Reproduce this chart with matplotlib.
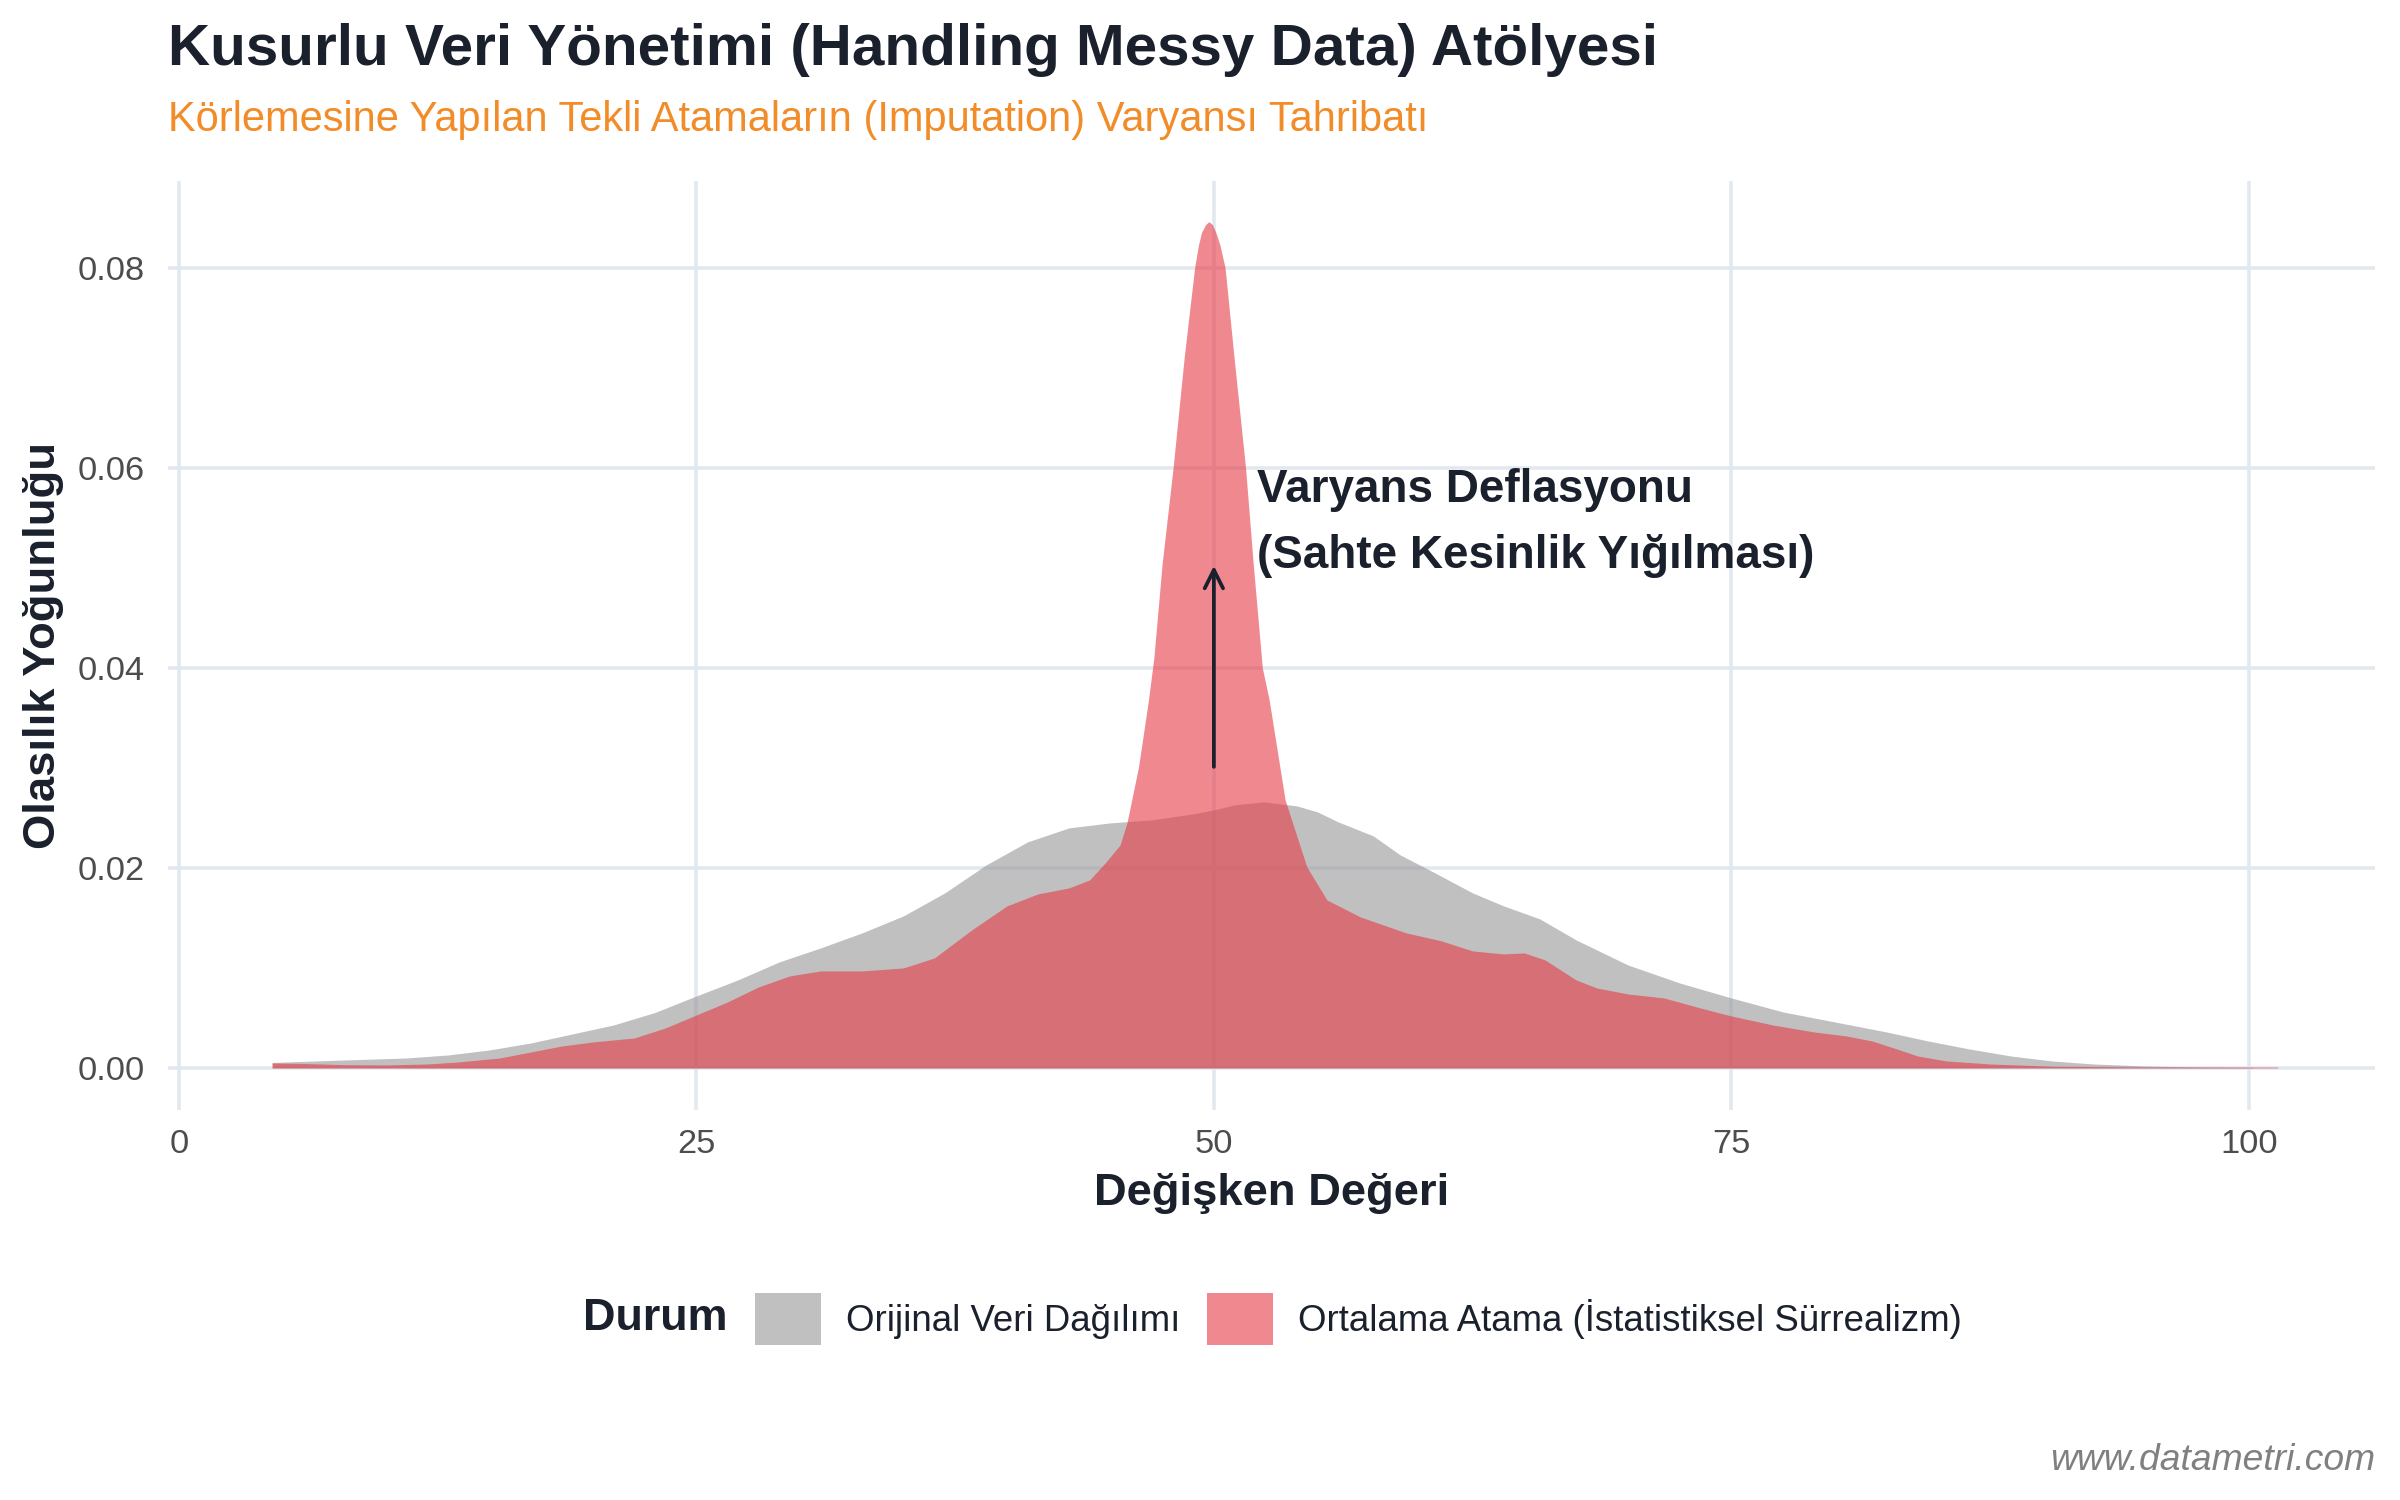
import numpy as np
import matplotlib
matplotlib.use('Agg')
import matplotlib.pyplot as plt
from matplotlib.patches import Patch

plt.rcParams['font.family'] = ['Liberation Sans', 'DejaVu Sans']

# --- data (x value, density) ---
orig_x = [4.5, 8, 11, 13, 15, 17, 19, 21, 23, 25, 27, 29, 31, 33, 35, 37, 39, 41, 43,
          45, 47, 49, 50, 51, 52.4, 54, 55, 56, 57.7, 59, 60.5, 62.5, 64, 65.75, 67.5,
          70, 72.5, 75, 77.5, 80.5, 82.5, 84.5, 86.5, 88.5, 90.5, 92.5, 95, 97.5, 100.2]
orig_d = [0.00055, 0.0008, 0.0010, 0.0013, 0.0018, 0.0025, 0.0034, 0.0043, 0.00555,
          0.0072, 0.0088, 0.0106, 0.0120, 0.0135, 0.0152, 0.0175, 0.0203, 0.0226, 0.0240,
          0.0245, 0.0248, 0.0254, 0.0258, 0.0263, 0.0266, 0.0262, 0.0256, 0.0246, 0.0232,
          0.0213, 0.0197, 0.0175, 0.0162, 0.0149, 0.0128, 0.0103, 0.0085, 0.0070, 0.0056,
          0.0044, 0.0036, 0.0027, 0.0019, 0.0012, 0.0007, 0.0004, 0.0002, 0.0001, 0.00005]

imp_x = [4.5, 6, 8, 10, 12, 13.5, 15.5, 17, 18.5, 20, 22, 23.5, 25, 26.5, 28, 29.5, 31,
         33, 35, 36.5, 38.3, 40, 41.5, 43, 44, 44.75, 45.47, 45.8, 46.36, 46.84, 47.1,
         47.5, 48.03, 48.57, 49.07, 49.25, 49.4, 49.6, 49.76, 49.93, 50.1, 50.3, 50.54,
         50.97, 51.53, 51.9, 52.34, 52.67, 53.44, 54.49, 55.46, 57.07, 59.3, 61, 62.5, 64,
         65, 66, 67.5, 68.5, 70, 71.75, 73.5, 75, 77, 79, 80.56, 81.8, 83, 84, 85.4, 87.5,
         90.6, 95, 101.4]
imp_d = [0.0005, 0.00045, 0.00033, 0.0003, 0.0004, 0.0006, 0.0010, 0.0016, 0.0022, 0.0026,
         0.0030, 0.0040, 0.0053, 0.0066, 0.0081, 0.0092, 0.0097, 0.0097, 0.0100, 0.0110,
         0.0138, 0.0162, 0.0174, 0.0180, 0.0188, 0.0205, 0.0223, 0.0245, 0.0301, 0.0368,
         0.0410, 0.0504, 0.0600, 0.0711, 0.0800, 0.0822, 0.0835, 0.0843, 0.0846, 0.0843,
         0.0835, 0.0822, 0.0800, 0.0711, 0.0600, 0.0504, 0.0400, 0.0368, 0.0268, 0.0201,
         0.0168, 0.0151, 0.0135, 0.0127, 0.0117, 0.0114, 0.0115, 0.0108, 0.0088, 0.0080,
         0.0074, 0.0070, 0.0060, 0.0052, 0.0043, 0.0036, 0.0032, 0.0027, 0.0019, 0.0012,
         0.0007, 0.0004, 0.00017, 0.0001, 0.0001]

labels = ['Orijinal Veri Dağılımı', 'Ortalama Atama (İstatistiksel Sürrealizm)']
colors = ['#969696', '#E63946']
x_ticks = [0, 25, 50, 75, 100]
y_ticks = [0.00, 0.02, 0.04, 0.06, 0.08]

DARK = '#1A202C'
GRID = '#E2E8F0'

fig = plt.figure(figsize=(16, 10), dpi=150)
ax = fig.add_axes([0.07, 0.26, 0.9196, 0.6196])

ax.fill_between(orig_x, 0, orig_d, color=colors[0], alpha=0.6, lw=0, zorder=2)
ax.fill_between(imp_x, 0, imp_d, color=colors[1], alpha=0.6, lw=0, zorder=3)

ax.set_xlim(-0.53, 106.1)
ax.set_ylim(-0.0042, 0.0887)
ax.set_xticks(x_ticks)
ax.set_yticks(y_ticks)
ax.set_xticklabels([str(v) for v in x_ticks])
ax.set_yticklabels([f'{v:.2f}' for v in y_ticks])
ax.tick_params(length=0, labelsize=16.5, labelcolor='#4D4D4D')
ax.tick_params(axis='y', pad=11)
ax.tick_params(axis='x', pad=9)
ax.grid(True, color=GRID, lw=1.7, zorder=0)
ax.set_axisbelow(True)
for s in ax.spines.values():
    s.set_visible(False)

# annotation
ax.annotate('', xy=(50, 0.0502), xytext=(50, 0.0301),
            arrowprops=dict(arrowstyle='->', color=DARK, lw=1.8,
                            mutation_scale=22, shrinkA=0, shrinkB=0), zorder=5)
ax.text(52.1, 0.0545, 'Varyans Deflasyonu\n(Sahte Kesinlik Yığılması)',
        fontsize=22, fontweight='bold', color=DARK, ha='left', va='center',
        linespacing=1.64, zorder=6)

# titles
fig.text(0.07, 0.9567, 'Kusurlu Veri Yönetimi (Handling Messy Data) Atölyesi',
         fontsize=28, fontweight='bold', color=DARK, va='baseline')
fig.text(0.07, 0.9127, 'Körlemesine Yapılan Tekli Atamaların (Imputation) Varyansı Tahribatı',
         fontsize=20, color='#F28C28', va='baseline')

fig.text(0.5298, 0.204, 'Değişken Değeri', fontsize=21.8, fontweight='bold',
         color=DARK, ha='center', va='center')
fig.text(0.018, 0.57, 'Olasılık Yoğunluğu', fontsize=21.8, fontweight='bold',
         color=DARK, ha='center', va='center', rotation=90)

# legend
fig.text(583 / 2400, 1 - 1319 / 1500, 'Durum', fontsize=21.6, fontweight='bold',
         color=DARK, ha='left', va='center')
handles = [Patch(facecolor=c, alpha=0.6, edgecolor='none') for c in colors]
fig.legend(handles, labels, loc='center left', bbox_to_anchor=(755 / 2400, 1 - 1319 / 1500),
           ncol=2, frameon=False, fontsize=17.6, handlelength=1.8, handleheight=1.8,
           handletextpad=0.69, columnspacing=0.71, borderpad=0, borderaxespad=0,
           labelcolor=DARK)

fig.text(0.9896, 0.02, 'www.datametri.com', fontsize=17.9, style='italic',
         color='#808080', ha='right', va='baseline')

fig.savefig('out.png', dpi=150)
